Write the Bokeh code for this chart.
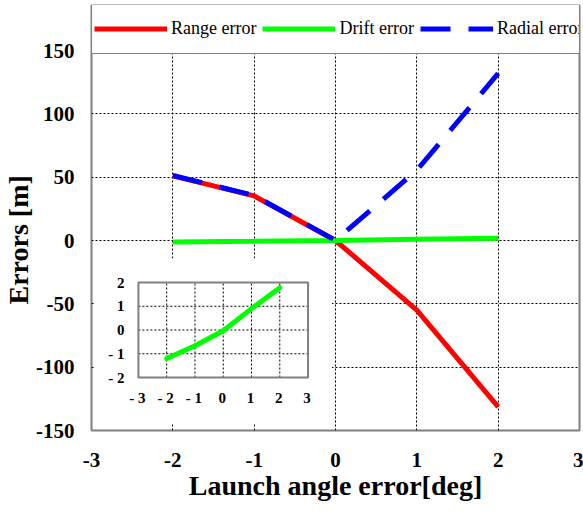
from bokeh.plotting import figure
from bokeh.models import Range1d, FixedTicker, Legend, LegendItem, Title
from bokeh.core.properties import value
from bokeh.embed import file_html
from bokeh.resources import INLINE

# ---------------- data ----------------
angle = [-2, -1, 0, 1, 2]
range_err = [51.0, 35.2, 0.0, -55.0, -131.4]
drift_err = [-1.2, -0.66, -0.03, 0.9, 1.78]
radial_err = [51.3, 35.5, 0.05, 55.5, 131.9]

x_ticks = [-3, -2, -1, 0, 1, 2, 3]
x_tick_labels = ["-3", "-2", "-1", "0", "1", "2", "3"]
y_ticks = [-150, -100, -50, 0, 50, 100, 150]
y_tick_labels = ["-150", "-100", "-50", "0", "50", "100", "150"]

inset_x_ticks = [-3, -2, -1, 0, 1, 2, 3]
inset_x_labels = ["- 3", "- 2", "- 1", "0", "1", "2", "3"]
inset_y_ticks = [-2, -1, 0, 1, 2]
inset_y_labels = ["- 2", "- 1", "0", "1", "2"]

# ---------------- layout (pixels) ----------------
W, H = 583, 512
FL, FR, FT, FB = 90, 579, 50, 430          # main plot box (y=150 at FT)
FTOP = 5                                   # frame extends under the legend
IL, IR, IT, IB = 137, 307, 282, 377        # inset frame
WL, WR, WT, WB = 93, 331, 258, 423         # white inset background
LEG_H = 49
YLABEL_BOTTOM = 304                        # where the rotated y label starts

ysc = (FB - FT) / (y_ticks[-1] - y_ticks[0])
y_top = y_ticks[-1] + (FT - FTOP) / ysc

ax = (IR - IL) / (inset_x_ticks[-1] - inset_x_ticks[0])
ay = (IB - IT) / (inset_y_ticks[-1] - inset_y_ticks[0])
ix0, ix1 = inset_x_ticks[0], inset_x_ticks[-1]
iy0, iy1 = inset_y_ticks[0], inset_y_ticks[-1]


def sx2i(s):
    return ix0 + (s - IL) / ax


def sy2i(s):
    return iy1 - (s - IT) / ay


FONT = "Liberation Serif"

p = figure(width=W, height=H, output_backend="svg", toolbar_location=None,
           x_range=Range1d(x_ticks[0], x_ticks[-1]),
           y_range=Range1d(y_ticks[0], y_top),
           min_border_left=FL, min_border_right=W - FR,
           min_border_top=FTOP, min_border_bottom=H - FB,
           background_fill_color="white", border_fill_color="white")
p.extra_x_ranges = {"ix": Range1d(sx2i(FL), sx2i(FR))}
p.extra_y_ranges = {"iy": Range1d(sy2i(FB), sy2i(FTOP))}

p.outline_line_color = "#808080"
p.outline_line_width = 2

for axis in (p.xaxis[0], p.yaxis[0]):
    axis.axis_line_color = None
    axis.major_tick_line_color = None
    axis.minor_tick_line_color = None
    axis.major_tick_in = 0
    axis.major_tick_out = 0
    axis.major_label_text_font = FONT
    axis.major_label_text_font_style = "bold"
    axis.major_label_text_font_size = "21px"
    axis.major_label_text_color = "black"
    axis.axis_label_text_font = FONT
    axis.axis_label_text_font_style = "bold"
    axis.axis_label_text_font_size = "28px"
    axis.axis_label_text_color = "black"

p.xaxis[0].ticker = FixedTicker(ticks=x_ticks)
p.yaxis[0].ticker = FixedTicker(ticks=y_ticks)
p.xaxis[0].major_label_overrides = dict(zip(x_ticks, x_tick_labels))
p.yaxis[0].major_label_overrides = dict(zip(y_ticks, y_tick_labels))
p.xaxis[0].axis_label = "Launch angle error[deg]"
p.xaxis[0].major_label_standoff = 22
p.yaxis[0].major_label_standoff = 17
p.xaxis[0].axis_label_standoff = 0

ytitle = Title(text="Errors [m]", align="left", offset=FB - YLABEL_BOTTOM,
               standoff=0, text_font=FONT, text_font_style="bold",
               text_font_size="28px", text_color="black")
p.add_layout(ytitle, "left")

for g in (p.xgrid[0], p.ygrid[0]):
    g.grid_line_color = "black"
    g.grid_line_dash = "2 2"
    g.grid_line_width = 1
    g.grid_line_alpha = 1
p.xgrid[0].ticker = FixedTicker(ticks=x_ticks[1:-1])
p.ygrid[0].ticker = FixedTicker(ticks=y_ticks[1:-1])

# ---------------- inset ----------------
p.quad(left=[sx2i(WL)], right=[sx2i(WR)], bottom=[sy2i(WB)], top=[sy2i(WT)],
       fill_color="white", line_color=None, x_range_name="ix", y_range_name="iy")

vx = inset_x_ticks[1:-1]
p.segment(x0=vx, x1=vx, y0=[iy0] * len(vx), y1=[iy1] * len(vx),
          line_color="black", line_width=1, line_dash="2 2",
          x_range_name="ix", y_range_name="iy")
hy = inset_y_ticks[1:-1]
p.segment(x0=[ix0] * len(hy), x1=[ix1] * len(hy), y0=hy, y1=hy,
          line_color="black", line_width=1, line_dash="2 2",
          x_range_name="ix", y_range_name="iy")
p.quad(left=[ix0], right=[ix1], bottom=[iy0], top=[iy1], fill_color=None,
       line_color="#808080", line_width=2, x_range_name="ix", y_range_name="iy")

p.line(angle, drift_err, line_color="#00FF00", line_width=5, line_cap="round",
       line_join="round", x_range_name="ix", y_range_name="iy")

p.text(x=inset_x_ticks, y=[iy0] * len(inset_x_ticks), text=inset_x_labels,
       x_offset=-1, y_offset=20, text_align="center", text_baseline="middle",
       text_font=value(FONT), text_font_style="bold", text_font_size="15px",
       text_color="black", x_range_name="ix", y_range_name="iy")
p.text(x=[ix0] * len(inset_y_ticks), y=inset_y_ticks, text=inset_y_labels,
       x_offset=-14, text_align="right", text_baseline="middle",
       text_font=value(FONT), text_font_style="bold", text_font_size="15px",
       text_color="black", x_range_name="ix", y_range_name="iy")

# ---------------- main series ----------------
r_range = p.line(angle, range_err, line_color="#FF0000", line_width=5)
r_drift = p.line(angle, drift_err, line_color="#00FF00", line_width=5)
r_radial = p.line(angle, radial_err, line_color="#0000FF", line_width=5,
                  line_dash="30 18")

legend = Legend(items=[LegendItem(label="Range error", renderers=[r_range]),
                       LegendItem(label="Drift error", renderers=[r_drift]),
                       LegendItem(label="Radial error", renderers=[r_radial])],
                location=(0, FB - FTOP - LEG_H), orientation="horizontal",
                padding=2, spacing=6, margin=0,
                glyph_width=73, glyph_height=LEG_H - 4, label_height=LEG_H - 4,
                label_standoff=4, label_width=0,
                border_line_color="black", border_line_width=1,
                background_fill_color="white", background_fill_alpha=1,
                label_text_font=FONT, label_text_font_size="18px",
                label_text_color="black")
p.add_layout(legend)

open("out.html", "w").write(file_html(p, INLINE))
